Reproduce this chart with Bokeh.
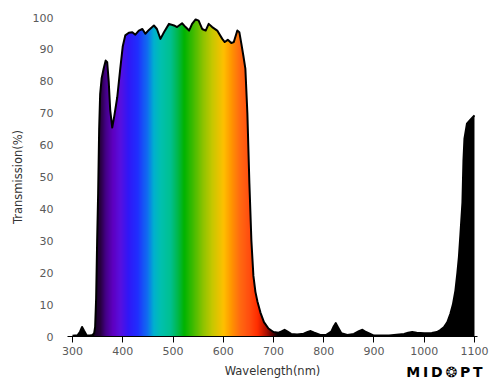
import numpy as np
from bokeh.plotting import figure
from bokeh.models import Range1d, FixedTicker, Label
from bokeh.embed import file_html
from bokeh.resources import INLINE

# ---- data ----
wavelength = [300, 305, 310, 315, 319, 323, 328, 335, 340, 343, 345, 347, 349, 351, 353, 355,
              358, 362, 366, 369, 372, 375, 379, 383, 389, 395, 400, 405, 412, 419, 425, 432,
              439, 445, 452, 462, 468, 475, 482, 492, 502, 508, 518, 525, 532, 538, 545, 551,
              558, 565, 571, 578, 588, 598, 603, 609, 616, 621, 628, 632, 636, 640, 644, 648,
              652, 656, 660, 664, 668, 674, 681, 690, 700, 710, 716, 722, 728, 735, 747, 760,
              768, 774, 780, 793, 805, 815, 820, 824, 828, 835, 847, 860, 870, 877, 884, 900,
              930, 960, 968, 976, 985, 1000, 1015, 1025, 1032, 1039, 1046, 1052, 1057, 1062,
              1066, 1069, 1072, 1076, 1078, 1080, 1085, 1092, 1097, 1100]
transmission = [0.2, 0.3, 0.4, 1.5, 3.0, 1.8, 0.4, 0.3, 0.5, 1.0, 3.0, 12, 30, 45, 65, 76,
                81, 84, 86.5, 86, 80, 71, 65.5, 69, 75, 84, 91, 94.4, 95.2, 95.4, 94.6, 95.9,
                96.4, 94.9, 96.1, 97.5, 96.4, 93.3, 95.4, 98, 97.5, 97, 98.2, 97, 95.9, 98, 99.4, 99,
                96.4, 95.9, 98, 97, 95.9, 93.3, 92.3, 93, 92, 92.3, 95.9, 95.4, 91.8, 88, 84, 70,
                48, 30, 19, 14, 11, 7.5, 4.5, 2.5, 1.4, 1.2, 1.6, 2.1, 1.5, 0.8, 0.6, 0.9,
                1.4, 1.7, 1.3, 0.5, 0.5, 1.5, 3.2, 4.2, 3.0, 1.0, 0.5, 0.8, 1.7, 2.1, 1.4, 0.3,
                0.3, 0.8, 1.2, 1.4, 1.2, 1.0, 1.1, 1.4, 2.0, 2.9, 4.5, 7.1, 10, 14.4,
                20, 25, 32, 42, 55, 62, 66.7, 68, 68.8, 69.3]
x_ticks = [300, 400, 500, 600, 700, 800, 900, 1000, 1100]
y_ticks = [0, 10, 20, 30, 40, 50, 60, 70, 80, 90, 100]

# spectrum colour stops (wavelength -> colour) for the fill gradient
spec_wl = [343, 355, 366, 380, 395, 411, 430, 449, 461, 475, 495, 510, 522, 540, 560, 578,
           600, 615, 632, 650, 668, 685, 698, 708]
spec_col = ["#180028", "#28003f", "#45008a", "#5e00c0", "#5810e0", "#3018f8", "#2030ff",
            "#1070f0", "#00b0d0", "#00c0b0", "#00c090", "#00b848", "#00b400", "#40bc00",
            "#90c400", "#c8c800", "#ffc000", "#ff9800", "#ff6c10", "#ff5010", "#ff2c00",
            "#b01000", "#500000", "#000000"]

# ---- build gradient image ----
band_lo, band_hi = spec_wl[0], spec_wl[-1]
n = 730
gx = np.linspace(band_lo, band_hi, n)
rgb = np.array([[int(c[i:i + 2], 16) for i in (1, 3, 5)] for c in spec_col], dtype=float)
img = np.empty((1, n), dtype=np.uint32)
view = img.view(dtype=np.uint8).reshape((1, n, 4))
for k in range(3):
    view[0, :, k] = np.interp(gx, spec_wl, rgb[:, k]).astype(np.uint8)
view[0, :, 3] = 255

p = figure(width=500, height=388, x_range=Range1d(290, 1106), y_range=Range1d(0, 100),
           output_backend="svg", toolbar_location=None,
           min_border_left=67, min_border_right=23, min_border_top=17, min_border_bottom=52)
p.outline_line_color = None
p.grid.visible = False
p.background_fill_color = "white"
p.border_fill_color = "white"

p.varea(x=wavelength, y1=0, y2=transmission, fill_color="black")
p.image_rgba(image=[img], x=band_lo, y=0, dw=band_hi - band_lo, dh=99)
p.varea(x=wavelength, y1=transmission, y2=110, fill_color="white")
p.line(wavelength, transmission, line_color="black", line_width=2, line_join="round")

font = "DejaVu Sans"
for ax in (p.xaxis, p.yaxis):
    ax.major_label_text_font = font
    ax.major_label_text_font_size = "11px"
    ax.major_label_text_color = "#5a5a5a"
    ax.axis_label_text_font = font
    ax.axis_label_text_font_size = "11.5px"
    ax.axis_label_text_font_style = "normal"
    ax.axis_label_text_color = "#333333"
    ax.minor_tick_line_color = None

p.xaxis.ticker = FixedTicker(ticks=x_ticks)
p.xaxis.axis_line_color = "black"
p.xaxis.major_tick_line_color = "black"
p.xaxis.major_tick_in = 0
p.xaxis.major_tick_out = 6
p.xaxis.major_label_standoff = 4
p.xaxis.axis_label = "Wavelength(nm)"
p.xaxis.axis_label_standoff = 6

p.yaxis.ticker = FixedTicker(ticks=y_ticks)
p.yaxis.axis_line_color = None
p.yaxis.major_tick_line_color = None
p.yaxis.major_tick_in = 0
p.yaxis.major_tick_out = 0
p.yaxis.major_label_standoff = 14
p.yaxis.axis_label = "Transmission(%)"
p.yaxis.axis_label_standoff = 5

# logo: a label living in the top side panel, shifted down to the bottom-right corner
p.add_layout(Label(x=964.3, y=-354, y_units="screen",
                   text="M\u2009I\u2009D\u2009\u2742\u2009P\u2009T", text_font=font,
                   text_font_style="bold", text_font_size="14px", text_baseline="middle",
                   text_color="black"), "above")

open("out.html", "w").write(file_html(p, INLINE))
